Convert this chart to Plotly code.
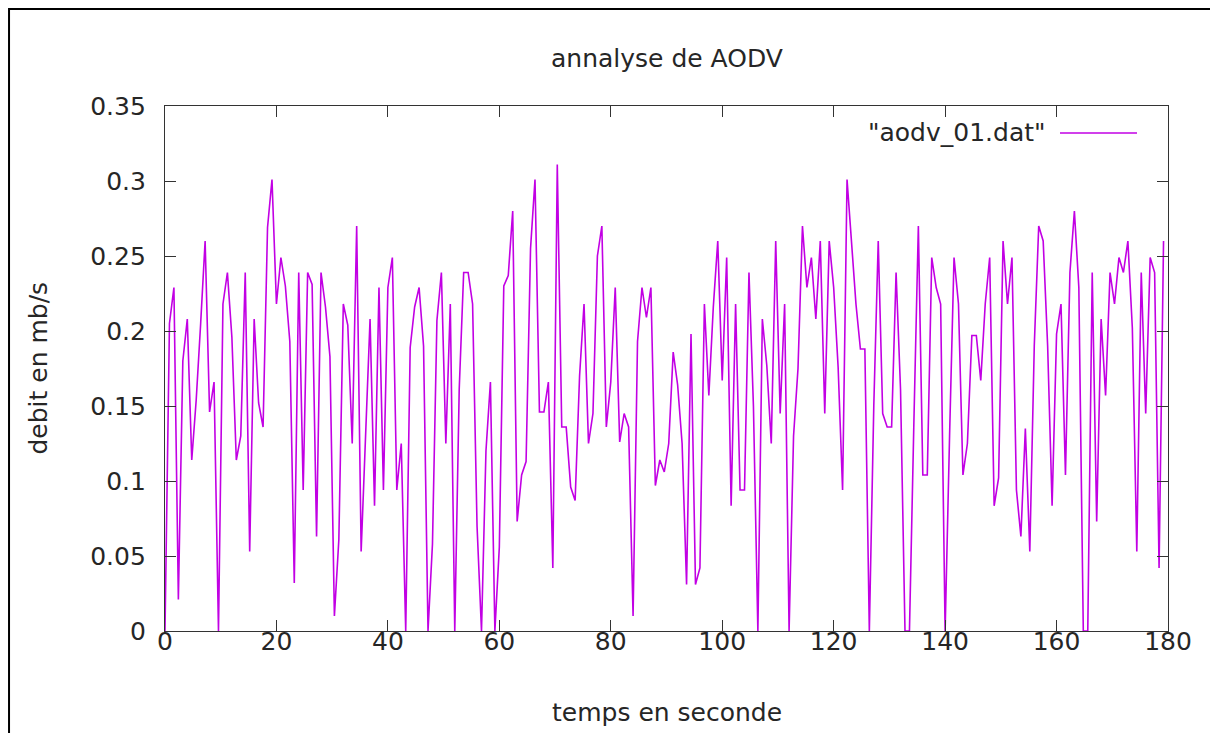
import plotly.graph_objects as go

# ---- data ----
title_text = "annalyse de AODV"
x_title = "temps en seconde"
y_title = "debit en mb/s"
series_name = '"aodv_01.dat"'
time_step = 0.8  # sampling interval (s)

debit = [
    0.0, 0.205, 0.229, 0.021, 0.18, 0.208, 0.114, 0.154, 0.205, 0.26,
    0.146, 0.166, 0.0, 0.218, 0.239, 0.196, 0.114, 0.13, 0.239, 0.053,
    0.208, 0.152, 0.136, 0.269, 0.301, 0.218, 0.249, 0.23, 0.193, 0.032,
    0.239, 0.094, 0.239, 0.231, 0.063, 0.239, 0.216, 0.183, 0.010, 0.061,
    0.218, 0.204, 0.125, 0.27, 0.053, 0.13, 0.208, 0.0835, 0.229, 0.094,
    0.229, 0.249, 0.094, 0.125, 0.0, 0.189, 0.216, 0.229, 0.19, 0.0,
    0.058, 0.207, 0.239, 0.125, 0.218, 0.0, 0.161, 0.239, 0.239, 0.218,
    0.07, 0.0, 0.12, 0.166, 0.0, 0.056, 0.23, 0.237, 0.28, 0.073,
    0.104, 0.113, 0.255, 0.301, 0.146, 0.146, 0.166, 0.042, 0.311, 0.136,
    0.136, 0.096, 0.087, 0.17, 0.218, 0.125, 0.145, 0.25, 0.27, 0.136,
    0.166, 0.229, 0.126, 0.145, 0.136, 0.010, 0.193, 0.229, 0.209, 0.229,
    0.097, 0.114, 0.106, 0.125, 0.186, 0.164, 0.125, 0.031, 0.198, 0.031,
    0.042, 0.218, 0.157, 0.216, 0.26, 0.167, 0.249, 0.0835, 0.218, 0.094,
    0.094, 0.239, 0.15, 0.0, 0.208, 0.177, 0.125, 0.26, 0.145, 0.218,
    0.0, 0.13, 0.175, 0.27, 0.229, 0.249, 0.208, 0.26, 0.145, 0.26,
    0.229, 0.176, 0.094, 0.301, 0.26, 0.218, 0.188, 0.188, 0.0, 0.15,
    0.26, 0.145, 0.136, 0.136, 0.239, 0.161, 0.0, 0.0, 0.14, 0.27,
    0.104, 0.104, 0.249, 0.229, 0.218, 0.0, 0.13, 0.249, 0.218, 0.104,
    0.125, 0.197, 0.197, 0.167, 0.218, 0.249, 0.0835, 0.102, 0.26, 0.218,
    0.249, 0.094, 0.063, 0.135, 0.053, 0.19, 0.27, 0.26, 0.19, 0.0835,
    0.198, 0.218, 0.104, 0.239, 0.28, 0.229, 0.0, 0.0, 0.239, 0.073,
    0.208, 0.157, 0.239, 0.218, 0.249, 0.239, 0.26, 0.202, 0.053, 0.239,
    0.145, 0.249, 0.239, 0.042, 0.26,
]
temps = [round(i * time_step, 2) for i in range(len(debit))]

x_ticks = [0, 20, 40, 60, 80, 100, 120, 140, 160, 180]
y_ticks = [0, 0.05, 0.1, 0.15, 0.2, 0.25, 0.3, 0.35]
y_ticktext = ["0", "0.05", "0.1", "0.15", "0.2", "0.25", "0.3", "0.35"]

# ---- styling ----
LINE_COLOR = "#c200e4"
FONT = "DejaVu Sans"
FS = 25
TXT = "#262626"

fig = go.Figure()
fig.add_trace(go.Scatter(
    x=temps, y=debit, mode="lines", name=series_name,
    line=dict(color=LINE_COLOR, width=1.6), showlegend=False,
))

axis_common = dict(
    showline=True, linecolor="#333333", linewidth=1.2, mirror="ticks",
    ticks="inside", ticklen=11, tickwidth=1.2, tickcolor="#333333",
    showgrid=False, zeroline=False,
    tickfont=dict(family=FONT, size=FS, color=TXT),
)

fig.update_layout(
    width=1218, height=733,
    paper_bgcolor="white", plot_bgcolor="white",
    margin=dict(l=157, r=58, t=98, b=110),
    xaxis=dict(range=[0, 180], tickvals=x_ticks, ticklabelstandoff=-12, **axis_common),
    yaxis=dict(range=[0, 0.35], tickvals=y_ticks, ticktext=y_ticktext,
               ticklabelstandoff=13, **axis_common),
    font=dict(family=FONT, size=FS, color=TXT),
)

# titles
fig.add_annotation(text=title_text, xref="paper", yref="paper", x=0.5, y=1.0914,
                   showarrow=False, font=dict(family=FONT, size=FS, color=TXT),
                   xanchor="center", yanchor="middle")
fig.add_annotation(text=x_title, xref="paper", yref="paper", x=0.5, y=-0.156,
                   showarrow=False, font=dict(family=FONT, size=FS, color=TXT),
                   xanchor="center", yanchor="middle")
fig.add_annotation(text=y_title, xref="paper", yref="paper", x=-0.1266, y=0.5,
                   showarrow=False, textangle=-90,
                   font=dict(family=FONT, size=FS, color=TXT),
                   xanchor="center", yanchor="middle")

# gnuplot-like key: text then line sample
fig.add_annotation(text=series_name, xref="paper", yref="paper", x=0.8804, y=0.9486,
                   showarrow=False, font=dict(family=FONT, size=FS, color=TXT),
                   xanchor="right", yanchor="middle")
fig.add_shape(type="line", xref="paper", yref="paper", x0=0.8923, x1=0.9691,
              y0=0.9486, y1=0.9486, line=dict(color=LINE_COLOR, width=1.6))

# outer frame of the picture
fig.add_shape(type="rect", xref="paper", yref="paper",
              x0=-0.1555, x1=1.0449, y0=-0.25, y1=1.1848,
              line=dict(color="black", width=2), fillcolor="rgba(0,0,0,0)", layer="below")

fig.write_html("out.html")
